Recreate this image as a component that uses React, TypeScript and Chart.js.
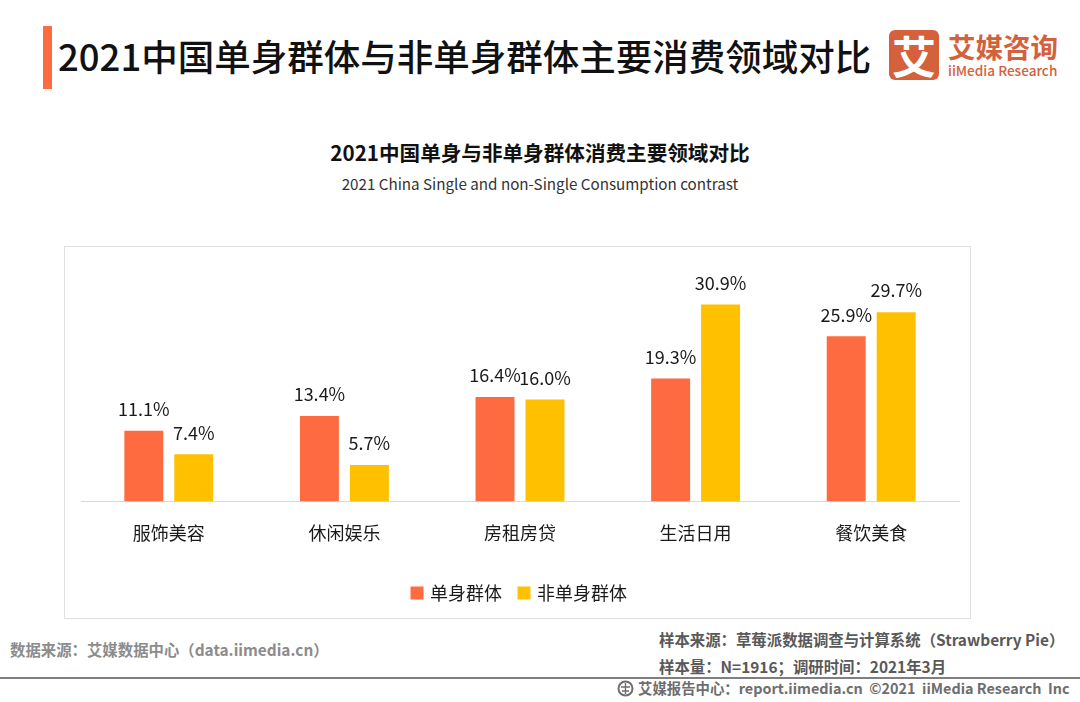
import { useEffect, useRef } from "react";
import type { CSSProperties } from "react";
import Chart from "chart.js/auto";

const categories = ["服饰美容", "休闲娱乐", "房租房贷", "生活日用", "餐饮美食"];
const singleValues = [11.1, 13.4, 16.4, 19.3, 25.9];
const nonSingleValues = [7.4, 5.7, 16.0, 30.9, 29.7];
const seriesNames = ["单身群体", "非单身群体"];

const CJK = '"Noto Sans CJK SC", "Noto Sans", sans-serif';

// draws the "11.1%" labels above each bar
const barLabels = {
  id: "barLabels",
  afterDatasetsDraw(chart: Chart) {
    const { ctx } = chart;
    ctx.save();
    ctx.font = `18px ${CJK}`;
    ctx.fillStyle = "#1a1a1a";
    ctx.textAlign = "center";
    ctx.textBaseline = "middle";
    chart.data.datasets.forEach((ds, i) => {
      chart.getDatasetMeta(i).data.forEach((bar, j) => {
        ctx.fillText(`${(ds.data[j] as number).toFixed(1)}%`, bar.x, bar.y - 21.5);
      });
    });
    ctx.restore();
  },
};

const text = (style: CSSProperties): CSSProperties => ({
  position: "absolute",
  whiteSpace: "nowrap",
  fontFamily: CJK,
  lineHeight: 1,
  ...style,
});

const App = () => {
  const chartRef = useRef<HTMLCanvasElement | null>(null);

  useEffect(() => {
    if (!chartRef.current) return;
    const chart = new Chart(chartRef.current, {
      type: "bar",
      data: {
        labels: categories,
        datasets: [
          { label: seriesNames[0], data: singleValues, backgroundColor: "#FF6B40" },
          { label: seriesNames[1], data: nonSingleValues, backgroundColor: "#FFC000" },
        ],
      },
      options: {
        animation: false,
        responsive: false,
        categoryPercentage: 0.569,
        barPercentage: 0.78,
        layout: { padding: { left: 16, right: 11, top: 26, bottom: 6 } },
        scales: {
          x: {
            grid: { display: false },
            border: { color: "#d9d9d9" },
            ticks: { color: "#1a1a1a", font: { size: 18, family: CJK }, padding: 13 },
            // leaves the empty band between the tick labels and the legend
            afterFit: (scale) => {
              scale.height += 9;
            },
          },
          y: { display: false, min: 0, max: 36 },
        },
        plugins: {
          tooltip: { enabled: false },
          legend: {
            position: "bottom",
            labels: {
              usePointStyle: true,
              pointStyle: "rect",
              boxWidth: 8,
              boxHeight: 13,
              color: "#1a1a1a",
              font: { size: 18, family: CJK },
              padding: 18,
            },
          },
        },
      },
      plugins: [barLabels],
    });
    return () => chart.destroy();
  }, []);

  return (
    <div style={{ position: "absolute", left: 0, top: 0, width: 1080, height: 702, background: "#fff", overflow: "hidden" }}>
      <div style={{ position: "absolute", left: 43, top: 26, width: 9, height: 63, background: "#FF6B40" }} />
      <div style={text({ left: 58, top: 38, fontSize: 36.5, fontWeight: 500, color: "#111" })}>
        2021中国单身群体与非单身群体主要消费领域对比
      </div>

      <div style={{ position: "absolute", left: 889, top: 30, width: 50, height: 50, borderRadius: 6, background: "#D4603C" }}>
        <div style={text({ left: 0, width: 50, top: 3, textAlign: "center", fontSize: 44, fontWeight: 700, color: "#fff" })}>艾</div>
      </div>
      <div style={text({ left: 948, top: 33, fontSize: 27.5, fontWeight: 700, color: "#D4603C" })}>艾媒咨询</div>
      <div style={text({ left: 948, top: 64, fontSize: 13.6, fontWeight: 500, color: "#D4603C" })}>iiMedia Research</div>

      <div style={text({ left: 0, width: 1080, top: 142, textAlign: "center", fontSize: 20.6, fontWeight: 700, color: "#111" })}>
        2021中国单身与非单身群体消费主要领域对比
      </div>
      <div style={text({ left: 0, width: 1080, top: 176, textAlign: "center", fontSize: 15.2, color: "#333" })}>
        2021 China Single and non-Single Consumption contrast
      </div>

      <div style={{ position: "absolute", left: 64, top: 246, width: 905, height: 371, border: "1px solid #e0e0e0" }} />
      <canvas ref={chartRef} width={905} height={372} style={{ position: "absolute", left: 65, top: 246, width: 905, height: 372 }} />

      <div style={text({ left: 10, top: 642, fontSize: 15.4, fontWeight: 700, color: "#8c8c8c" })}>
        数据来源：艾媒数据中心（data.iimedia.cn）
      </div>
      <div style={text({ left: 659, top: 632, fontSize: 15.4, fontWeight: 700, color: "#595959" })}>
        样本来源：草莓派数据调查与计算系统（Strawberry Pie）
      </div>
      <div style={text({ left: 659, top: 659, fontSize: 15.4, fontWeight: 700, color: "#595959" })}>
        样本量：N=1916；调研时间：2021年3月
      </div>
      <div style={{ position: "absolute", left: 0, top: 677, width: 1080, height: 2, background: "#7f7f7f" }} />
      <div style={text({ left: 638, top: 681, fontSize: 14.4, fontWeight: 700, color: "#6e6e6e" })}>
        艾媒报告中心：report.iimedia.cn&nbsp;&nbsp;©2021&nbsp;&nbsp;iiMedia Research&nbsp;&nbsp;Inc
      </div>
      <svg style={{ position: "absolute", left: 617, top: 680 }} width={17} height={17} viewBox="0 0 17 17">
        <circle cx={8.5} cy={8.5} r={7} fill="none" stroke="#6e6e6e" strokeWidth={2} />
        <path d="M8.5 3v11M4 7h9M5 11h7" fill="none" stroke="#6e6e6e" strokeWidth={1.4} />
      </svg>
    </div>
  );
};

export default App;
